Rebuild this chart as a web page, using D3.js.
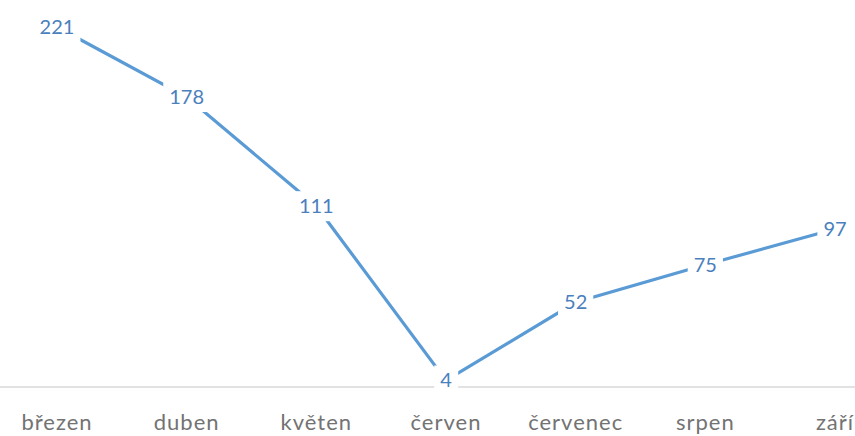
<!DOCTYPE html>
<html><head><meta charset="utf-8">
<script src="https://cdn.jsdelivr.net/npm/d3@7"></script>
<style>body{margin:0;background:#fff}svg{display:block}</style>
</head><body>
<svg id="c" width="855" height="436"></svg>
<script>
const categories = ["březen","duben","květen","červen","červenec","srpen","září"];
const values = [221,178,111,4,52,75,97];

const svg = d3.select("#c");
const W = 855, H = 436;
const x = d3.scalePoint().domain(categories).range([57, 835]);
const y = d3.scaleLinear().domain([0, 221]).range([387, 27]);

// axis line
svg.append("line").attr("x1",0).attr("x2",W).attr("y1",y(0)).attr("y2",y(0))
  .attr("stroke","#d9d9d9").attr("stroke-width",1.5);

// category labels
svg.append("g").selectAll("text").data(categories).join("text")
  .attr("x", d=>x(d)).attr("y", 430)
  .attr("text-anchor","middle")
  .attr("font-family","Lato, 'Open Sans', sans-serif")
  .attr("font-size",22).attr("letter-spacing",1)
  .attr("fill","#737373").text(d=>d);

// line
const line = d3.line().x((d,i)=>x(categories[i])).y(d=>y(d));
svg.append("path").datum(values).attr("d",line)
  .attr("fill","none").attr("stroke","#5b9bd5").attr("stroke-width",3.2)
  .attr("stroke-linecap","round");

// data labels with white background
const lg = svg.append("g");
values.forEach((v,i)=>{
  const cx = x(categories[i]), cy = y(v);
  const g = lg.append("g");
  const r = g.append("rect").attr("fill","#fff");
  const t = g.append("text").attr("x",cx).attr("y",cy).attr("dy","0.35em")
    .attr("text-anchor","middle")
    .attr("font-family","Lato, 'Open Sans', sans-serif")
    .attr("font-size",20).attr("fill","#4a80bd").text(v);
  const b = t.node().getBBox();
  r.attr("x",b.x-6).attr("y",cy-15).attr("width",b.width+12).attr("height",30);
});
</script>
</body></html>
